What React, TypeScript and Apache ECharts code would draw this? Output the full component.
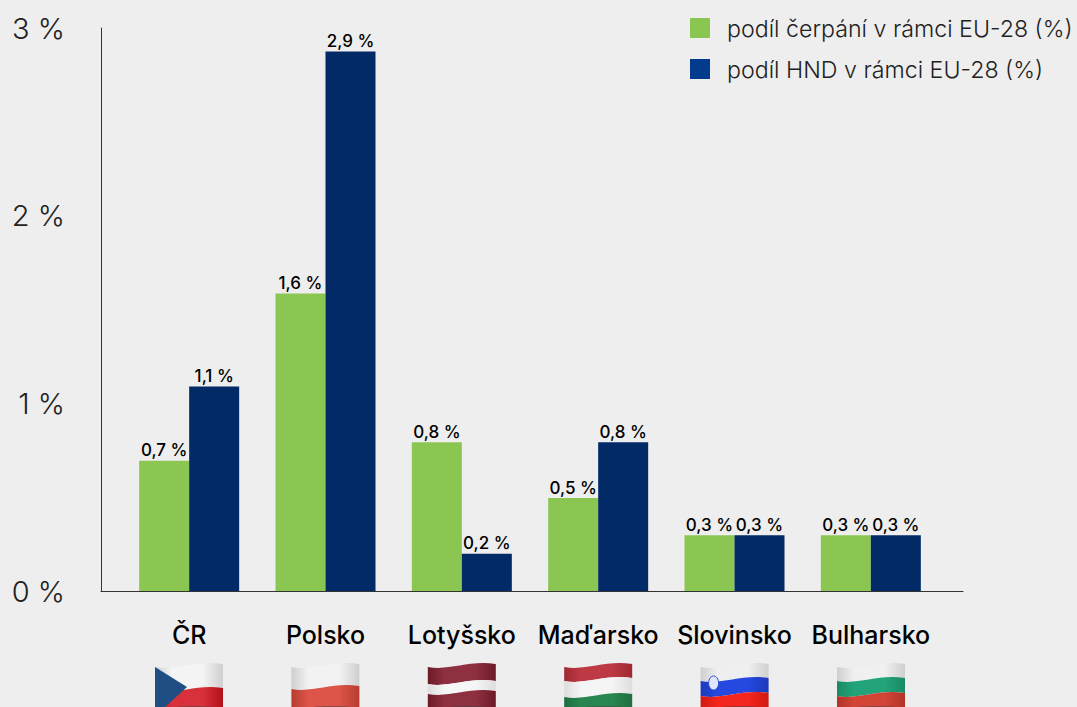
import React, { useEffect, useRef } from "react";
import * as echarts from "echarts";

const categories = ["ČR", "Polsko", "Lotyšsko", "Maďarsko", "Slovinsko", "Bulharsko"];
const cerpani = [0.7, 1.6, 0.8, 0.5, 0.3, 0.3];
const hnd = [1.1, 2.9, 0.2, 0.8, 0.3, 0.3];
const yTicks = [0, 1, 2, 3];
const seriesNames = ["podíl čerpání v rámci EU-28 (%)", "podíl HND v rámci EU-28 (%)"];

const GREEN = "#8bc653";
const NAVY = "#022a66";
const FONT = "Inter";

const w = 68;
const wave = (t: number, b: number) =>
  `M0 ${t + 4}C22 ${t + 8} 40 ${t - 3} 68 ${t + 1}L68 ${b + 1}C40 ${b - 3} 22 ${b + 8} 0 ${b + 4}Z`;

const stripeShapes: Record<string, string> = {};
const stripe = (t: number, b: number) => {
  const k = `s${t}_${b}`;
  if (!stripeShapes[k]) {
    stripeShapes[k] = wave(t, b);
    echarts.graphic.registerShape(k, echarts.graphic.extendPath(wave(t, b), {}));
  }
  return k;
};
const shade = (c: string, d: string) => ({
  type: "linear", x: 0, y: 0, x2: 1, y2: 0,
  colorStops: [
    { offset: 0, color: d }, { offset: 0.25, color: c }, { offset: 0.7, color: c }, { offset: 1, color: d },
  ],
});

const flagStripes: [number, number, any][][] = [
  [[0, 24, shade("#f4f4f4", "#cfcfcf")], [24, 46, shade("#d8313c", "#b01018")]],
  [[0, 22, shade("#f2f2f2", "#cfcfcf")], [22, 46, shade("#dc5548", "#b83c30")]],
  [[0, 17, shade("#8e3040", "#6d1a28")], [17, 27, shade("#f6f6f6", "#dddddd")], [27, 46, shade("#8e3040", "#6d1a28")]],
  [[0, 14, shade("#bd3a44", "#a02832")], [14, 30, shade("#f5f5f5", "#dddddd")], [30, 46, shade("#2a8650", "#1e6e40")]],
  [[0, 14, shade("#efefef", "#cfcfcf")], [14, 29, shade("#2548e0", "#1c3ab8")], [29, 46, shade("#f4261e", "#d01a10")]],
  [[0, 14, shade("#f0f0f0", "#cfcfcf")], [14, 29, shade("#22a37a", "#1a8a66")], [29, 46, shade("#d24536", "#b03428")]],
];

export default function App() {
  const ref = useRef<HTMLDivElement>(null);
  useEffect(() => {
    const chart = echarts.init(ref.current!, null, { renderer: "svg" });
    const flagGroups = flagStripes.map((st, i) => ({
      type: "group",
      x: 189 + i * 136.4 - w / 2,
      y: 663,
      silent: true,
      children: [
        ...st.map(([t, b, fill]) => ({ type: stripe(t, b), style: { fill } })),
        ...(i === 0
          ? [{ type: "polygon", shape: { points: [[0, 4], [32, 24], [10, 44], [0, 44]] }, style: { fill: "#1f4e85" } }]
          : []),
        ...(i === 4
          ? [{ type: "ellipse", shape: { cx: 13, cy: 20, rx: 5, ry: 7 }, style: { fill: "#dfe6fa", stroke: "#2a4ad0", lineWidth: 1 } }]
          : []),
        { type: "ellipse", shape: { cx: 40, cy: 46, rx: 26, ry: 3 }, style: { fill: "#444", opacity: 0.55 } },
      ],
    }));
    chart.setOption({
      animation: false,
      backgroundColor: "#eeeeee",
      grid: [
        { left: 121, width: 818, top: 28, height: 563 },
        { left: 101, width: 862, top: 28, height: 563 },
      ],
      xAxis: [
        {
          type: "category", gridIndex: 0, data: categories,
          axisLine: { show: false }, axisTick: { show: false },
          axisLabel: { color: "#000", fontFamily: FONT, fontWeight: 500, fontSize: 25, margin: 31, interval: 0 },
        },
        {
          type: "value", gridIndex: 1, min: 0, max: 1,
          axisLine: { show: true, lineStyle: { color: "#333", width: 1 } },
          axisTick: { show: false }, axisLabel: { show: false }, splitLine: { show: false },
        },
      ],
      yAxis: [
        {
          type: "value", gridIndex: 0, min: 0, max: 563 / 186,
          axisLine: { show: false }, axisTick: { show: false }, axisLabel: { show: false }, splitLine: { show: false },
        },
        {
          type: "value", gridIndex: 1, min: 0, max: 3, interval: 1,
          axisLine: { show: true, lineStyle: { color: "#333", width: 1 } },
          axisTick: { show: false }, splitLine: { show: false },
          axisLabel: {
            color: "#222", fontFamily: FONT, fontWeight: 300, fontSize: 29, margin: 36,
            customValues: yTicks, formatter: (v: number) => `${v} %`,
          },
        },
      ],
      legend: { show: false },
      series: [cerpani, hnd].map((data, i) => ({
        type: "bar", name: seriesNames[i], xAxisIndex: 0, yAxisIndex: 0, data,
        barWidth: 50, barGap: 0,
        itemStyle: { color: i === 0 ? GREEN : NAVY },
        label: {
          show: true, position: "top", distance: 2, color: "#000", fontFamily: FONT,
          fontWeight: 500, fontSize: 17,
          formatter: (p: any) => `${String(p.value).replace(".", ",")} %`,
        },
      })),
      graphic: [
        ...seriesNames.flatMap((name, i) => [
          { type: "rect", shape: { x: 690, y: 18 + i * 41, width: 20, height: 20 }, style: { fill: i === 0 ? GREEN : "#023a8e" } },
          { type: "text", x: 727, y: 29 + i * 41, style: { text: name, fill: "#222", font: `300 23.2px ${FONT}`, textVerticalAlign: "middle" } },
        ]),
        ...flagGroups,
      ],
    });
    return () => chart.dispose();
  }, []);
  return <div ref={ref} style={{ position: "absolute", left: 0, top: 0, width: 1077, height: 707 }} />;
}
